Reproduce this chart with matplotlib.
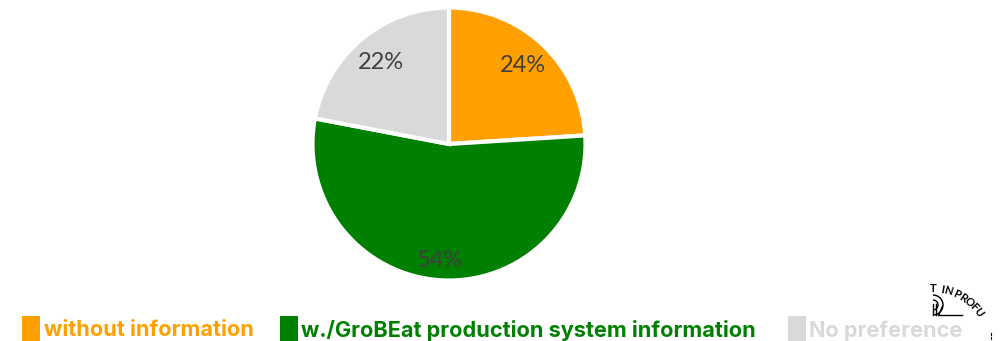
import numpy as np
import matplotlib
matplotlib.use("Agg")
import matplotlib.pyplot as plt
from matplotlib.patches import Rectangle, Arc

W, H = 1001, 341

labels = ["without information", "w./GroBEat production system information", "No preference"]
shares = [24, 54, 22]
colors = ["#FF9F00", "#008000", "#D9D9D9"]
legendBox = [22, 280, 788]
legendText = [44, 301, 809]

badgeChars = ["T", "I", "N", "P", "R", "O", "F", "U"]
badgeAngles = [1, 10, 16, 26, 33, 40, 47, 54]

fig = plt.figure(figsize=(W / 100, H / 100), dpi=100)
plt.rcParams["font.family"] = ["Lato", "DejaVu Sans"]

# pie area, square box around the circle
cx, cy, R = 449, 144, 136.5
ax = fig.add_axes([(cx - R) / W, 1 - (cy + R) / H, 2 * R / W, 2 * R / H])
wedges, texts, autotexts = ax.pie(
    shares, colors=colors, startangle=90, counterclock=False, radius=1,
    autopct="%d%%", pctdistance=0.79,
    wedgeprops={"edgecolor": "white", "linewidth": 3},
    textprops={"fontsize": 17, "color": "#404040", "family": "Lato"},
)
ax.set_xlim(-1, 1)
ax.set_ylim(-1, 1)
ax.set_aspect("equal")
for w in wedges:
    w.set_clip_on(False)
autotexts[1].set_position((-0.065, -0.85))
autotexts[2].set_position((-0.5, 0.6))

# overlay in pixel coordinates for legend and badge
over = fig.add_axes([0, 0, 1, 1], facecolor="none")
over.set_xlim(0, W)
over.set_ylim(H, 0)
over.axis("off")

for x, tx, lab, col in zip(legendBox, legendText, labels, colors):
    over.add_patch(Rectangle((x, 316), 18, 25, facecolor=col, edgecolor="none", clip_on=False))
    over.text(tx, 330.5, lab, color=col, fontsize=15.6, fontweight="bold",
              family="Inter", va="center", ha="left")

# round badge in the corner, only part of it is visible
bx, by, br = 932, 346, 57.5
clipBox = Rectangle((932.5, 270), 60, 60, transform=over.transData)
for ch, a in zip(badgeChars, badgeAngles):
    t = np.deg2rad(a)
    txt = over.text(bx + br * np.sin(t), by - br * np.cos(t), ch, fontsize=8, fontweight="bold",
                    family="Lato", color="black", rotation=-a, ha="center", va="center")
    txt.set_clip_path(clipBox)
over.plot([938, 962], [314.5, 314.5], color="black", lw=1)
over.plot([932.5, 932.5], [304, 315], color="black", lw=1)
over.plot([936, 936], [304, 315], color="black", lw=1)
over.plot([942.5, 939], [306, 314.5], color="black", lw=1)
for d in [10, 20]:
    over.add_patch(Arc((933, 305), d, d, theta1=-90, theta2=90, color="black", lw=1))
over.plot([990.5, 990.5], [333, 335], color="black", lw=0.8)
over.plot([990.5, 990.5], [337, 339], color="black", lw=0.8)

fig.savefig("out.png", dpi=100)
